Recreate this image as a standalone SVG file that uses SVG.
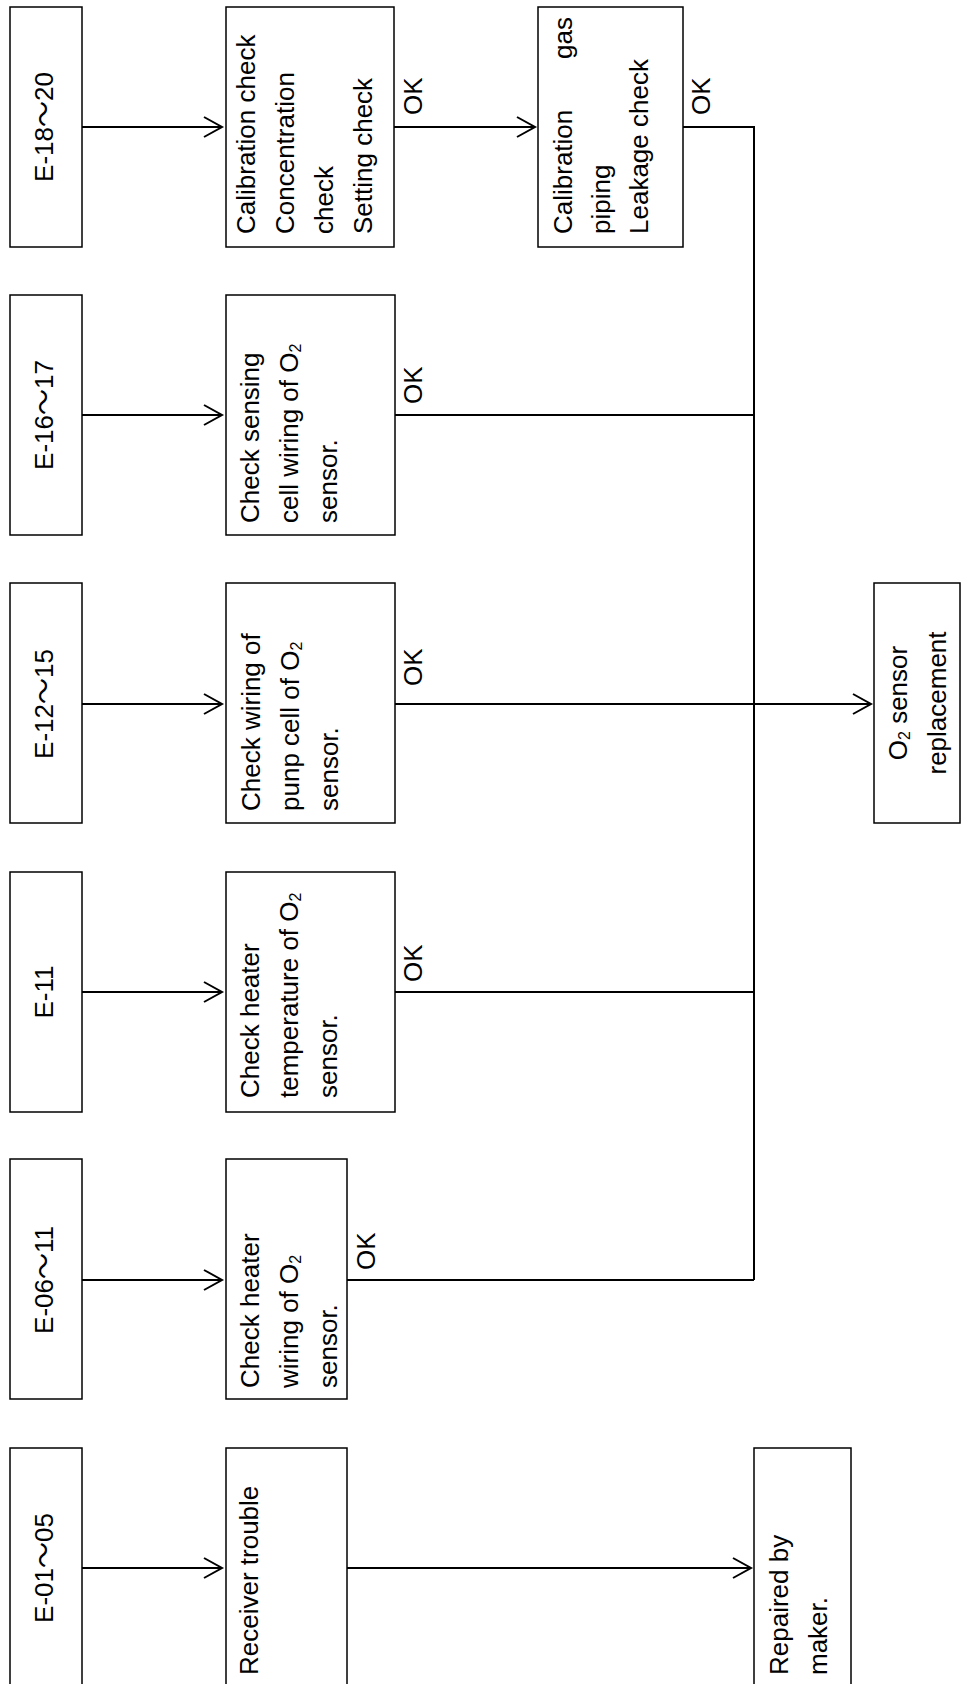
<svg xmlns="http://www.w3.org/2000/svg" width="961" height="1684" viewBox="0 0 961 1684">
<style>
  .box { fill: #fff; stroke: #000; stroke-width: 1.5; }
  .t { font-family: "Liberation Sans", "Noto Sans CJK JP", sans-serif; font-size: 26px; fill: #000; }
  .c { text-anchor: middle; }
  .e { text-anchor: end; }
  .ln { fill: none; stroke: #000; stroke-width: 2; }
</style>
<defs>
  <marker id="arr" markerUnits="userSpaceOnUse" markerWidth="24" markerHeight="24" viewBox="-20 -12 24 24" refX="0" refY="0" orient="auto">
    <path d="M-18,-10 L0,0 L-18,10" fill="none" stroke="#000" stroke-width="2"/>
  </marker>
</defs>
<rect width="961" height="1684" fill="#fff"/>

<g id="connectors">
  <line class="ln" x1="82" y1="127" x2="222" y2="127" marker-end="url(#arr)"/>
  <line class="ln" x1="394" y1="127" x2="535" y2="127" marker-end="url(#arr)"/>
  <polyline class="ln" points="683,127 754,127 754,1280"/>
  <line class="ln" x1="82" y1="415" x2="222" y2="415" marker-end="url(#arr)"/>
  <line class="ln" x1="395" y1="415" x2="754" y2="415"/>
  <line class="ln" x1="82" y1="704" x2="222" y2="704" marker-end="url(#arr)"/>
  <line class="ln" x1="395" y1="704" x2="871" y2="704" marker-end="url(#arr)"/>
  <line class="ln" x1="82" y1="992" x2="222" y2="992" marker-end="url(#arr)"/>
  <line class="ln" x1="395" y1="992" x2="754" y2="992"/>
  <line class="ln" x1="82" y1="1280" x2="222" y2="1280" marker-end="url(#arr)"/>
  <line class="ln" x1="347" y1="1280" x2="754" y2="1280"/>
  <line class="ln" x1="82" y1="1568" x2="222" y2="1568" marker-end="url(#arr)"/>
  <line class="ln" x1="347" y1="1568" x2="751" y2="1568" marker-end="url(#arr)"/>
  <text class="t" transform="translate(422,115) rotate(-90)">OK</text>
  <text class="t" transform="translate(710,115) rotate(-90)">OK</text>
  <text class="t" transform="translate(422,404) rotate(-90)">OK</text>
  <text class="t" transform="translate(422,686) rotate(-90)">OK</text>
  <text class="t" transform="translate(422,982) rotate(-90)">OK</text>
  <text class="t" transform="translate(375,1270) rotate(-90)">OK</text>
</g>

<g id="e18">
  <rect class="box" x="10" y="7" width="72" height="240"/>
  <text class="t c" transform="translate(53,127) rotate(-90)">E-18～20</text>
</g>
<g id="calib-check">
  <rect class="box" x="226" y="7" width="168" height="240"/>
  <text class="t" transform="translate(255,234) rotate(-90)">Calibration check</text>
  <text class="t" transform="translate(294,234) rotate(-90)">Concentration</text>
  <text class="t" transform="translate(333,234) rotate(-90)">check</text>
  <text class="t" transform="translate(372,234) rotate(-90)">Setting check</text>
</g>
<g id="calib-gas">
  <rect class="box" x="538" y="7" width="145" height="240"/>
  <text class="t" transform="translate(572,234) rotate(-90)">Calibration</text>
  <text class="t e" transform="translate(572,17) rotate(-90)">gas</text>
  <text class="t" transform="translate(610,234) rotate(-90)">piping</text>
  <text class="t" transform="translate(648,234) rotate(-90)">Leakage check</text>
</g>

<g id="e16">
  <rect class="box" x="10" y="295" width="72" height="240"/>
  <text class="t c" transform="translate(53,415) rotate(-90)">E-16～17</text>
</g>
<g id="sensing">
  <rect class="box" x="226" y="295" width="169" height="240"/>
  <text class="t" transform="translate(259,523) rotate(-90)">Check sensing</text>
  <text class="t" transform="translate(298,523) rotate(-90)">cell wiring of O<tspan font-size="16" dy="3">2</tspan></text>
  <text class="t" transform="translate(337,523) rotate(-90)">sensor.</text>
</g>

<g id="e12">
  <rect class="box" x="10" y="583" width="72" height="240"/>
  <text class="t c" transform="translate(53,704) rotate(-90)">E-12～15</text>
</g>
<g id="pump">
  <rect class="box" x="226" y="583" width="169" height="240"/>
  <text class="t" transform="translate(260,811) rotate(-90)">Check wiring of</text>
  <text class="t" transform="translate(299,811) rotate(-90)">punp cell of O<tspan font-size="16" dy="3">2</tspan></text>
  <text class="t" transform="translate(338,811) rotate(-90)">sensor.</text>
</g>
<g id="replace">
  <rect class="box" x="874" y="583" width="86" height="240"/>
  <text class="t c" transform="translate(907,703) rotate(-90)">O<tspan font-size="16" dy="3">2</tspan><tspan dy="-3"> sensor</tspan></text>
  <text class="t c" transform="translate(946,703) rotate(-90)">replacement</text>
</g>

<g id="e11">
  <rect class="box" x="10" y="872" width="72" height="240"/>
  <text class="t c" transform="translate(53,992) rotate(-90)">E-11</text>
</g>
<g id="temp">
  <rect class="box" x="226" y="872" width="169" height="240"/>
  <text class="t" transform="translate(259,1098) rotate(-90)">Check heater</text>
  <text class="t" transform="translate(298,1098) rotate(-90)">temperature of O<tspan font-size="16" dy="3">2</tspan></text>
  <text class="t" transform="translate(337,1098) rotate(-90)">sensor.</text>
</g>

<g id="e06">
  <rect class="box" x="10" y="1159" width="72" height="240"/>
  <text class="t c" transform="translate(53,1280) rotate(-90)">E-06～11</text>
</g>
<g id="heater-wiring">
  <rect class="box" x="226" y="1159" width="121" height="240"/>
  <text class="t" transform="translate(259,1388) rotate(-90)">Check heater</text>
  <text class="t" transform="translate(298,1388) rotate(-90)">wiring of O<tspan font-size="16" dy="3">2</tspan></text>
  <text class="t" transform="translate(337,1388) rotate(-90)">sensor.</text>
</g>

<g id="e01">
  <rect class="box" x="10" y="1448" width="72" height="260"/>
  <text class="t c" transform="translate(53,1568) rotate(-90)">E-01～05</text>
</g>
<g id="receiver">
  <rect class="box" x="226" y="1448" width="121" height="260"/>
  <text class="t" transform="translate(258,1675) rotate(-90)">Receiver trouble</text>
</g>
<g id="repaired">
  <rect class="box" x="754" y="1448" width="97" height="260"/>
  <text class="t" transform="translate(788,1675) rotate(-90)">Repaired by</text>
  <text class="t" transform="translate(827,1675) rotate(-90)">maker.</text>
</g>
</svg>
